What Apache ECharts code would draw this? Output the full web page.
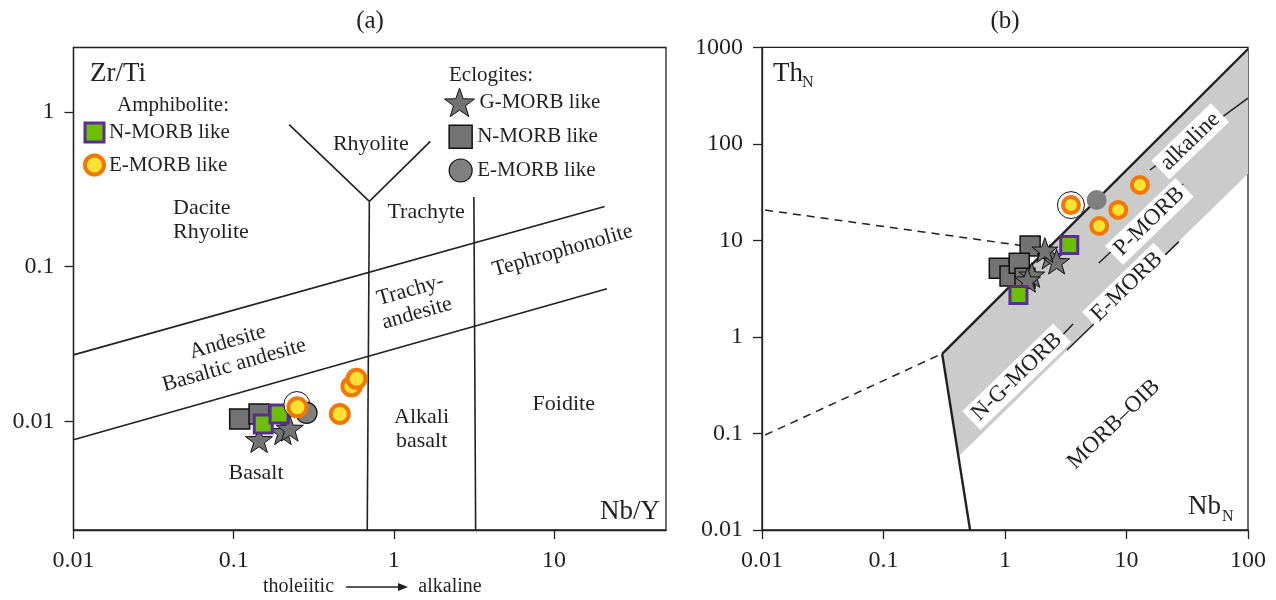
<!DOCTYPE html>
<html><head><meta charset="utf-8">
<script src="https://cdn.jsdelivr.net/npm/echarts@6/dist/echarts.min.js"></script>
<style>html,body{margin:0;padding:0;background:#fff}#c{width:1276px;height:600px}</style>
</head><body><div id="c"></div>
<script>
// ---------------- Panel (a): Zr/Ti vs Nb/Y ----------------
const xTicksA = [0.01, 0.1, 1, 10];
const yTicksA = [0.01, 0.1, 1];
const amphNmorbA = [[0.153, 0.00966], [0.192, 0.0112]];
const amphEmorbA = [[0.250, 0.0124], [0.460, 0.0112], [0.544, 0.0169], [0.585, 0.0189]];
const eclGmorbA = [[0.144, 0.00765], [0.203, 0.00861], [0.224, 0.00906]];
const eclNmorbA = [[0.109, 0.0104], [0.144, 0.0112]];
const eclEmorbA = [[0.285, 0.0114]];
const circledA = [[0.248, 0.0129]];
const lineUpperA = [[0.01, 0.0270], [20.7, 0.245]];
const lineLowerA = [[0.01, 0.00764], [21.4, 0.0722]];
const lineV1A = [[0.682, 0.002], [0.703, 0.264]];
const rhyLeftA = [[0.222, 0.827], [0.703, 0.264]];
const rhyRightA = [[0.703, 0.264], [1.69, 0.644]];
const lineV2A = [[3.24, 0.002], [3.16, 0.282]];
const fieldNamesA = ['Rhyolite', 'Dacite\nRhyolite', 'Trachyte', 'Tephrophonolite', 'Trachy-\nandesite',
  'Andesite\nBasaltic andesite', 'Alkali\nbasalt', 'Foidite', 'Basalt'];
const fieldPosA = [[0.718, 0.615], [0.0418, 0.201], [1.59, 0.225], [11.3, 0.127], [1.33, 0.0594],
  [0.0961, 0.0275], [1.49, 0.00888], [11.5, 0.0130], [0.138, 0.00466]];

// ---------------- Panel (b): ThN vs NbN ----------------
const xTicksB = [0.01, 0.1, 1, 10, 100];
const yTicksB = [0.01, 0.1, 1, 10, 100, 1000];
const amphNmorbB = [[3.38, 8.96], [1.29, 2.72]];
const amphEmorbB = [[3.49, 23.2], [5.97, 14.1], [8.56, 20.7], [12.9, 37.5]];
const eclGmorbB = [[2.35, 6.78], [2.66, 6.02], [1.66, 4.38], [1.53, 3.89], [2.13, 7.94]];
const eclNmorbB = [[1.61, 8.75], [0.898, 5.14], [1.10, 4.27], [1.31, 5.79], [1.46, 4.05]];
const eclEmorbB = [[5.68, 26.2]];
const circledB = [[3.49, 23.2]];
const bandB = [[0.304, 0.668], [0.418, 0.0583], [100, 49], [100, 960]];
const upperLineB = [[0.304, 0.668], [100, 960]];
const kinkLineB = [[0.304, 0.668], [0.516, 0.01]];
const dashUpperB = [[0.0106, 20.6], [1.6, 8.6]];
const dashLowerB = [[0.0106, 0.0964], [0.28, 0.64]];
const lineNGB = [[0.595, 0.125], [3.63, 1.36]];
const lineEB = [[3.24, 0.733], [27, 9.7]];
const linePB = [[5.92, 5.84], [29.2, 38.4]];
const lineAlkB = [[15.6, 53.6], [100, 297]];
const fieldNamesB = ['N-G-MORB', 'E-MORB', 'P-MORB', 'alkaline', 'MORB–OIB'];
const fieldPosB = [[1.25, 0.386], [10.06, 3.31], [15.4, 15.7], [33.4, 106], [7.85, 0.124]];

// ---------------- styling ----------------
const SERIF = '"Liberation Serif", "DejaVu Serif", serif';
const INK = '#231f20';
const GREEN = '#6cbe00', PURPLE = '#5a2d96', YELLOW = '#fbe232', ORANGE = '#f07800';
const GRAY = '#737373', GRAYC = '#808080';
const STAR = 'path://M50,0L61.8,33.8L97.6,34.5L69,56.2L79.4,90.5L50,70L20.6,90.5L31,56.2L2.4,34.5L38.2,33.8Z';

function fmt(v) { return String(+Number(v).toPrecision(3)); }

function logAxis(gridIndex, min, max, ticks, isY) {
  return {
    type: 'log', logBase: 10, gridIndex, min, max,
    axisLine: {show: true, onZero: false, lineStyle: {color: INK, width: 1.3}},
    axisTick: {show: true, inside: false, length: 9, customValues: ticks, lineStyle: {color: INK, width: 1.3}},
    axisLabel: {show: true, customValues: ticks, formatter: fmt, margin: isY ? 19 : 19,
      fontFamily: SERIF, fontSize: 24, color: INK},
    splitLine: {show: false}, minorTick: {show: false}
  };
}

function lineS(data, gi, width, dashed, z) {
  return {type: 'line', xAxisIndex: gi, yAxisIndex: gi, data, showSymbol: false, symbol: 'none',
    silent: true, z: z || 2, animation: false,
    lineStyle: {color: INK, width, type: dashed ? [8, 6] : 'solid'}, emphasis: {disabled: true}};
}

function pts(name, data, gi, symbol, size, style, z) {
  return {type: 'scatter', name, xAxisIndex: gi, yAxisIndex: gi, data, symbol, symbolSize: size,
    symbolKeepAspect: true, itemStyle: Object.assign({opacity: 1}, style), z, silent: true,
    emphasis: {disabled: true}};
}

const rotA = {'Tephrophonolite': 16, 'Trachy-\nandesite': 16, 'Andesite\nBasaltic andesite': 16};
const alignA = {'Dacite\nRhyolite': 'left'};

function labelsA() {
  return fieldNamesA.map((n, i) => ({
    type: 'scatter', xAxisIndex: 0, yAxisIndex: 0, symbolSize: 0, silent: true, z: 10,
    itemStyle: {opacity: 1}, emphasis: {disabled: true},
    data: [{name: n, value: fieldPosA[i]}],
    label: {show: true, position: 'inside', formatter: '{b}', rotate: rotA[n] || 0,
      align: alignA[n] || 'center', verticalAlign: 'middle', fontFamily: SERIF, fontSize: 22,
      lineHeight: 24, color: INK, opacity: 1}
  }));
}
function labelsB() {
  return fieldNamesB.map((n, i) => ({
    type: 'scatter', xAxisIndex: 1, yAxisIndex: 1, symbolSize: 0, silent: true, z: 8,
    itemStyle: {opacity: 1}, emphasis: {disabled: true},
    data: [{name: n, value: fieldPosB[i]}],
    label: {show: true, position: 'inside', formatter: '{b}', rotate: 44,
      align: 'center', verticalAlign: 'middle', fontFamily: SERIF, fontSize: 23, color: INK, opacity: 1,
      backgroundColor: n === 'MORB–OIB' ? 'transparent' : '#fff', padding: [2, 5, 1, 5]}
  }));
}

const NAME = {
  an: 'Amphibolite N-MORB like', ae: 'Amphibolite E-MORB like',
  eg: 'Eclogite G-MORB like', en: 'Eclogite N-MORB like', ee: 'Eclogite E-MORB like'
};
const stAN = {color: GREEN, borderColor: PURPLE, borderWidth: 3};
const stAE = {color: YELLOW, borderColor: ORANGE, borderWidth: 4};
const stEG = {color: GRAY, borderColor: '#111', borderWidth: 1};
const stEN = {color: GRAY, borderColor: '#111', borderWidth: 1.5};
const stEE = {color: GRAYC, borderColor: '#111', borderWidth: 1.2};
const stHalo = {color: '#fff', borderColor: '#111', borderWidth: 1};

function legendBox(left, top, w, items, gap) {
  return {
    orient: 'vertical', left, top, padding: 0, itemWidth: w, itemHeight: w, itemGap: gap || 10,
    selectedMode: false, data: items, formatter: n => n.replace(/^\S+ /, ''),
    textStyle: {fontFamily: SERIF, fontSize: 21, color: INK}
  };
}

const option = {
  animation: false,
  backgroundColor: '#fff',
  grid: [
    {left: 73.5, top: 47.5, width: 592.5, height: 482.5, show: true, borderColor: INK, borderWidth: 1.3, containLabel: false},
    {left: 762, top: 47.3, width: 486, height: 482.7, show: true, borderColor: INK, borderWidth: 1.3, containLabel: false}
  ],
  xAxis: [logAxis(0, 0.01, 50, xTicksA, false), logAxis(1, 0.01, 100, xTicksB, false)],
  yAxis: [logAxis(0, 0.002, 2.6, yTicksA, true), logAxis(1, 0.01, 1000, yTicksB, true)],
  legend: [
    legendBox(83, 121.5, 19, [
      {name: NAME.an, icon: 'rect', itemStyle: stAN},
      {name: NAME.ae, icon: 'circle', itemStyle: stAE}], 10),
    legendBox(444, 87.6, 30, [{name: NAME.eg, icon: STAR, itemStyle: stEG}]),
    legendBox(448.4, 124.4, 23, [
      {name: NAME.en, icon: 'rect', itemStyle: stEN},
      {name: NAME.ee, icon: 'circle', itemStyle: stEE}], 9.5)
  ],
  graphic: [
    {type: 'text', x: 370, y: 21, style: {text: '(a)', fontFamily: SERIF, fontSize: 25, fill: INK, align: 'center', verticalAlign: 'middle'}},
    {type: 'text', x: 1005, y: 21, style: {text: '(b)', fontFamily: SERIF, fontSize: 25, fill: INK, align: 'center', verticalAlign: 'middle'}},
    {type: 'text', x: 90, y: 74, style: {text: 'Zr/Ti', fontFamily: SERIF, fontSize: 27, fill: INK, align: 'left', verticalAlign: 'middle'}},
    {type: 'text', x: 660, y: 512, style: {text: 'Nb/Y', fontFamily: SERIF, fontSize: 27, fill: INK, align: 'right', verticalAlign: 'middle'}},
    {type: 'text', x: 117, y: 105, style: {text: 'Amphibolite:', fontFamily: SERIF, fontSize: 21, fill: INK, align: 'left', verticalAlign: 'middle'}},
    {type: 'text', x: 449, y: 75, style: {text: 'Eclogites:', fontFamily: SERIF, fontSize: 21, fill: INK, align: 'left', verticalAlign: 'middle'}},
    {type: 'text', x: 298.5, y: 587, style: {text: 'tholeiitic', fontFamily: SERIF, fontSize: 20, fill: INK, align: 'center', verticalAlign: 'middle'}},
    {type: 'text', x: 450, y: 587, style: {text: 'alkaline', fontFamily: SERIF, fontSize: 20, fill: INK, align: 'center', verticalAlign: 'middle'}},
    {type: 'line', shape: {x1: 346, y1: 587, x2: 400, y2: 587}, style: {stroke: INK, lineWidth: 1.3}},
    {type: 'polygon', shape: {points: [[408, 587], [398, 583], [398, 591]]}, style: {fill: INK}},
    {type: 'text', x: 773, y: 74, style: {text: 'Th', fontFamily: SERIF, fontSize: 27, fill: INK, align: 'left', verticalAlign: 'middle'}},
    {type: 'text', x: 802, y: 83, style: {text: 'N', fontFamily: SERIF, fontSize: 16, fill: INK, align: 'left', verticalAlign: 'middle'}},
    {type: 'text', x: 1221, y: 507, style: {text: 'Nb', fontFamily: SERIF, fontSize: 27, fill: INK, align: 'right', verticalAlign: 'middle'}},
    {type: 'text', x: 1222, y: 517, style: {text: 'N', fontFamily: SERIF, fontSize: 16, fill: INK, align: 'left', verticalAlign: 'middle'}}
  ],
  series: [
    // panel (a) boundaries
    lineS(lineUpperA, 0, 1.6), lineS(lineLowerA, 0, 1.6), lineS(lineV1A, 0, 1.6),
    lineS(rhyLeftA, 0, 1.6), lineS(rhyRightA, 0, 1.6), lineS(lineV2A, 0, 1.6),
    ...labelsA(),
    // panel (a) samples
    pts(NAME.eg, eclGmorbA, 0, STAR, 27, stEG, 3),
    pts(NAME.en, eclNmorbA, 0, 'rect', 20, stEN, 4),
    pts(NAME.an, amphNmorbA, 0, 'rect', 18, stAN, 5),
    pts('halo', circledA, 0, 'circle', 26, stHalo, 5),
    pts(NAME.ee, eclEmorbA, 0, 'circle', 21, stEE, 6),
    pts(NAME.ae, amphEmorbA, 0, 'circle', 18, stAE, 7),
    // panel (b) band and boundaries
    {type: 'custom', xAxisIndex: 1, yAxisIndex: 1, data: bandB, silent: true, z: 1,
      renderItem: (params, api) => {
        if (params.dataIndex !== 0) return null;
        return {type: 'polygon', shape: {points: bandB.map(p => api.coord(p))}, style: {fill: '#cbcbcb'}};
      }},
    lineS(upperLineB, 1, 2.4), lineS(kinkLineB, 1, 2.4),
    lineS(dashUpperB, 1, 1.5, true), lineS(dashLowerB, 1, 1.5, true),
    lineS(lineNGB, 1, 1.5), lineS(lineEB, 1, 1.5), lineS(linePB, 1, 1.5), lineS(lineAlkB, 1, 1.5),
    ...labelsB(),
    // panel (b) samples
    pts(NAME.en, eclNmorbB, 1, 'rect', 20, stEN, 10),
    pts(NAME.eg, eclGmorbB, 1, STAR, 26, stEG, 11),
    pts(NAME.an, amphNmorbB, 1, 'rect', 17, stAN, 12),
    pts('halo', circledB, 1, 'circle', 27, stHalo, 12),
    pts(NAME.ee, eclEmorbB, 1, 'circle', 20, {color: GRAYC}, 13),
    pts(NAME.ae, amphEmorbB, 1, 'circle', 16, stAE, 14)
  ]
};

const chart = echarts.init(document.getElementById('c'), null, {renderer: 'canvas'});
chart.setOption(option);
</script>
</body></html>
